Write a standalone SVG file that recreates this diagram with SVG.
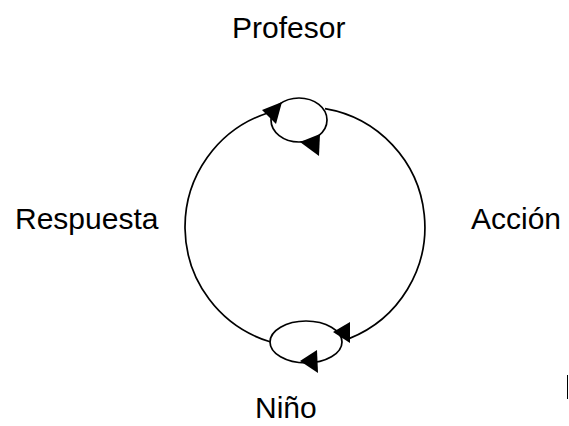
<svg xmlns="http://www.w3.org/2000/svg" width="569" height="426" viewBox="0 0 569 426">
<style>
.lbl{font-family:"Liberation Sans",Arial,sans-serif;font-size:30px;fill:#000}
.ln{fill:none;stroke:#000;stroke-width:1.7}
.ah{fill:#000;stroke:none}
</style>
<rect width="569" height="426" fill="#fff"/>
<g id="connectors">
<path class="ln" d="M267,113.2 A120,120 0 0 0 270,341.8"/>
<path class="ln" d="M325,108.7 A120,120 0 0 1 349,338.6"/>
<ellipse class="ln" cx="299" cy="120" rx="28" ry="22"/>
<ellipse class="ln" cx="306" cy="342" rx="36" ry="21"/>
<polygon class="ah" points="282,102 262,110 276,124"/>
<polygon class="ah" points="300,142 320,134 319,156"/>
<polygon class="ah" points="333,332 350,322 350,343"/>
<polygon class="ah" points="300,361 317,350 318,373"/>
</g>
<g id="node-profesor"><text class="lbl" x="232" y="38">Profesor</text></g>
<g id="node-respuesta"><text class="lbl" x="15" y="229">Respuesta</text></g>
<g id="node-accion"><text class="lbl" x="471" y="229">Acción</text></g>
<g id="node-nino"><text class="lbl" x="255" y="418">Niño</text></g>
<line x1="567.5" y1="375" x2="567.5" y2="399" stroke="#000" stroke-width="1"/>
</svg>
